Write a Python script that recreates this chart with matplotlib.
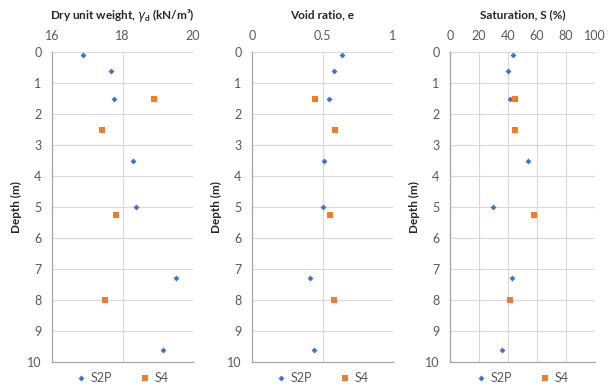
import matplotlib.pyplot as plt
import numpy as np

# depths of the samples (m)
depth_s2p = [0.1, 0.6, 1.5, 3.5, 5.0, 7.3, 9.6]
depth_s4 = [1.5, 2.5, 5.25, 8.0]

# dry unit weight (kN/m3)
gamma_s2p = [16.89, 17.66, 17.76, 18.29, 18.39, 19.52, 19.14]
gamma_s4 = [18.88, 17.42, 17.82, 17.50]

# void ratio
void_s2p = [0.637, 0.580, 0.549, 0.509, 0.504, 0.411, 0.437]
void_s4 = [0.447, 0.592, 0.554, 0.582]

# saturation (%)
sat_s2p = [43.3, 40.3, 41.7, 53.7, 29.5, 42.9, 36.2]
sat_s4 = [44.7, 44.7, 57.6, 41.5]

titles = ['Dry unit weight, $\\gamma_\\mathregular{d}$ (kN/m³)', 'Void ratio, e', 'Saturation, S (%)']
xlims = [(16, 20), (0, 1), (0, 100)]
xticks = [[16, 18, 20], [0, 0.5, 1], [0, 20, 40, 60, 80, 100]]
xticklabels = [['16', '18', '20'], ['0', '0.5', '1'], ['0', '20', '40', '60', '80', '100']]

blue = '#4472C4'
orange = '#ED7D31'
grid_c = '#D9D9D9'
axis_c = '#A6A6A6'
text_c = '#595959'

plt.rcParams['font.family'] = ['Lato', 'DejaVu Sans']
plt.rcParams['mathtext.fontset'] = 'dejavusans'

fig = plt.figure(figsize=(6.14, 3.89), dpi=100)
W, H = 614, 389
boxes = [(52, 193), (252, 393), (450, 595)]
top, bottom = 52, 362

data = [(gamma_s2p, gamma_s4), (void_s2p, void_s4), (sat_s2p, sat_s4)]

for i, (x0, x1) in enumerate(boxes):
    ax = fig.add_axes([x0 / W, 1 - bottom / H, (x1 - x0) / W, (bottom - top) / H])
    s2p, s4 = data[i]
    ax.scatter(s2p, depth_s2p, marker='D', s=9, color=blue, label='S2P', zorder=3, linewidths=0)
    ax.scatter(s4, depth_s4, marker='s', s=24, color=orange, label='S4', zorder=3, linewidths=0)
    ax.set_xlim(*xlims[i])
    ax.set_ylim(10, 0)
    ax.set_xticks(xticks[i])
    ax.set_xticklabels(xticklabels[i])
    ax.set_yticks(np.arange(0, 11, 1))
    ax.xaxis.tick_top()
    ax.tick_params(length=0, labelsize=9, colors=text_c, pad=7.5)
    ax.grid(True, color=grid_c, linewidth=0.8)
    ax.set_axisbelow(True)
    for side in ['top', 'right']:
        ax.spines[side].set_visible(False)
    for side in ['left', 'bottom']:
        ax.spines[side].set_color(axis_c)
        ax.spines[side].set_linewidth(0.9)
    ax.set_title(titles[i], fontsize=8.5, fontweight='bold', color='#262626', pad=24)
    ax.set_ylabel('Depth (m)', fontsize=8.5, fontweight='bold', color='#262626', labelpad=4)
    ax.legend(loc='upper center', bbox_to_anchor=(0.5, 0.005), ncol=2, frameon=False,
              fontsize=9, labelcolor=text_c, handlelength=0.8, handletextpad=0.4,
              columnspacing=2.2)

fig.savefig('out.png', dpi=100)
